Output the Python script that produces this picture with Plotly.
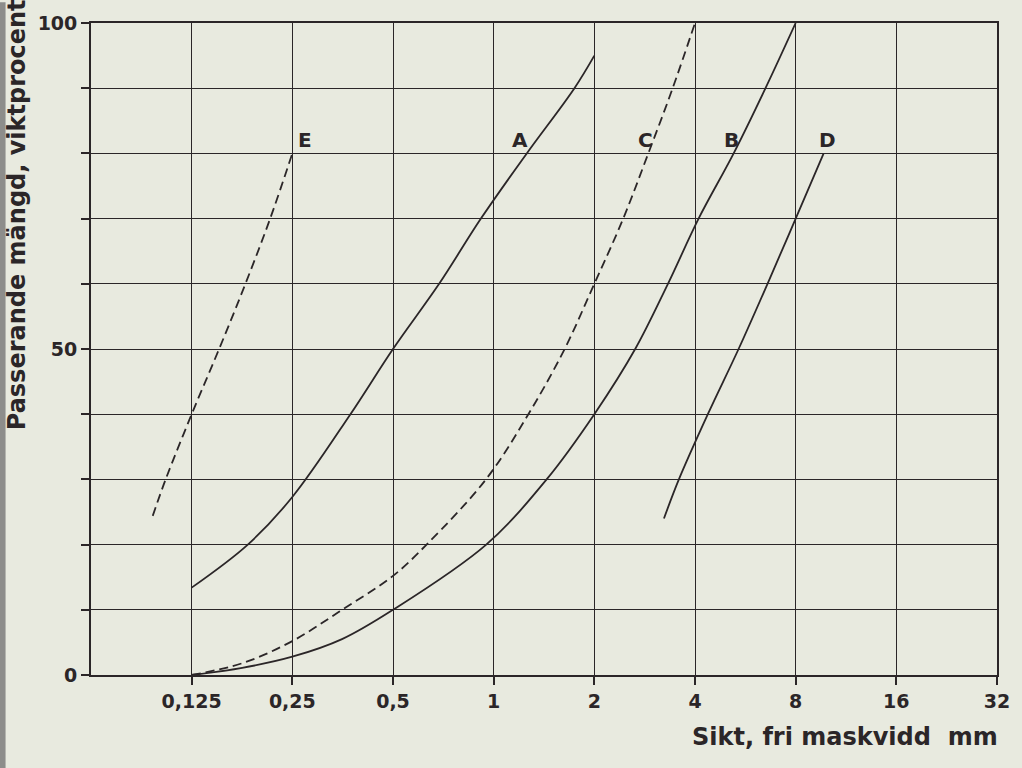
import plotly.graph_objects as go
import math

# ---- data ----
x_ticks = [0.125, 0.25, 0.5, 1, 2, 4, 8, 16, 32]
x_tick_text = ["0,125", "0,25", "0,5", "1", "2", "4", "8", "16", "32"]
y_ticks = [0, 10, 20, 30, 40, 50, 60, 70, 80, 90, 100]
y_tick_text = ["0", "", "", "", "", "50", "", "", "", "", "100"]

E_x = [0.0956, 0.1045, 0.125, 0.151, 0.181, 0.2146, 0.25]
E_y = [24.4, 30, 40, 50, 60, 70, 80]

A_x = [0.125, 0.184, 0.25, 0.373, 0.5, 0.687, 0.916, 1.256, 1.744, 2.0]
A_y = [13.4, 20, 27.3, 40, 50, 60, 70, 80, 90, 95]

C_x = [0.125, 0.177, 0.25, 0.352, 0.5, 0.63, 0.948, 1.27, 1.63, 2.0, 2.44, 2.9, 3.43, 4.0]
C_y = [0, 1.8, 5.2, 10, 15.2, 20, 30, 40, 50, 60, 70, 80, 90, 100]

B_x = [0.125, 0.177, 0.25, 0.352, 0.5, 0.95, 1.44, 2.0, 2.65, 3.32, 4.1, 5.22, 6.5, 8.0]
B_y = [0, 1.1, 2.8, 5.5, 10, 20, 30, 40, 50, 60, 70, 80, 90, 100]

D_x = [3.23, 3.58, 4.37, 5.4, 6.59, 8.0, 9.7]
D_y = [24, 30, 40, 50, 60, 70, 80]

label_names = ["E", "A", "C", "B", "D"]
label_x = [0.272, 1.197, 2.84, 5.15, 9.93]
label_y = [82, 82, 82, 82, 82]

# ---- styling ----
INK = "#2b2628"
PAPER = "#e8eadf"
FONT = "DejaVu Sans"

fig = go.Figure()
curves = [
    (E_x, E_y, "9px,5px"),
    (A_x, A_y, "solid"),
    (C_x, C_y, "9px,5px"),
    (B_x, B_y, "solid"),
    (D_x, D_y, "solid"),
]
for xs, ys, dash in curves:
    fig.add_trace(go.Scatter(
        x=xs, y=ys, mode="lines",
        line=dict(color=INK, width=1.8, dash=dash, shape="spline", smoothing=1.0),
        showlegend=False, hoverinfo="skip",
    ))

for name, lx, ly in zip(label_names, label_x, label_y):
    fig.add_annotation(x=math.log10(lx), y=ly, text=name, showarrow=False,
                       font=dict(family=FONT, size=20, color=INK, weight="bold"),
                       xanchor="center", yanchor="middle")

W, H = 1022, 768
L, R, T, B = 91, 19, 19, 93
pw, ph = W - L - R, H - T - B

def px_to_paper_x(px):
    return (px - L) / pw

def px_to_paper_y(py):
    return (H - B - py) / ph

# axis titles
fig.add_annotation(xref="paper", yref="paper",
                   x=px_to_paper_x(1006), y=px_to_paper_y(737),
                   text="Sikt, fri maskvidd\u00a0\u00a0mm", showarrow=False,
                   xanchor="right", yanchor="middle",
                   font=dict(family=FONT, size=24, color=INK, weight="bold"))
fig.add_annotation(xref="paper", yref="paper",
                   x=px_to_paper_x(16), y=px_to_paper_y(212),
                   text="Passerande mängd, viktprocent", showarrow=False,
                   textangle=-90, xanchor="center", yanchor="middle",
                   font=dict(family=FONT, size=24, color=INK, weight="bold"))

# gray page-edge strip on the left
fig.add_shape(type="rect", xref="paper", yref="paper",
              x0=px_to_paper_x(-2), x1=px_to_paper_x(5),
              y0=px_to_paper_y(H + 2), y1=px_to_paper_y(-2),
              fillcolor="#8d8d8b", line=dict(width=0), layer="above")

fig.update_xaxes(
    type="log",
    range=[math.log10(0.0625), math.log10(32)],
    tickvals=x_ticks, ticktext=x_tick_text,
    ticks="outside", ticklen=8, tickwidth=1.5, tickcolor=INK,
    showgrid=True, gridcolor=INK, gridwidth=1.4,
    showline=True, linecolor=INK, linewidth=1.8, mirror=True,
    zeroline=False,
    tickfont=dict(family=FONT, size=19, color=INK, weight="bold"),
)
fig.update_yaxes(
    range=[0, 100],
    tickvals=y_ticks, ticktext=y_tick_text,
    ticks="outside", ticklen=8, tickwidth=1.5, tickcolor=INK,
    showgrid=True, gridcolor=INK, gridwidth=1.4,
    showline=True, linecolor=INK, linewidth=1.8, mirror=True,
    zeroline=False,
    tickfont=dict(family=FONT, size=19, color=INK, weight="bold"),
)

fig.update_layout(
    width=W, height=H,
    margin=dict(l=L, r=R, t=T, b=B, pad=0),
    paper_bgcolor=PAPER, plot_bgcolor=PAPER,
    showlegend=False,
)

fig.write_html(
    "out.html",
    config={"displayModeBar": False},
    post_script="document.body.style.margin='0';document.body.style.overflow='hidden';",
)
